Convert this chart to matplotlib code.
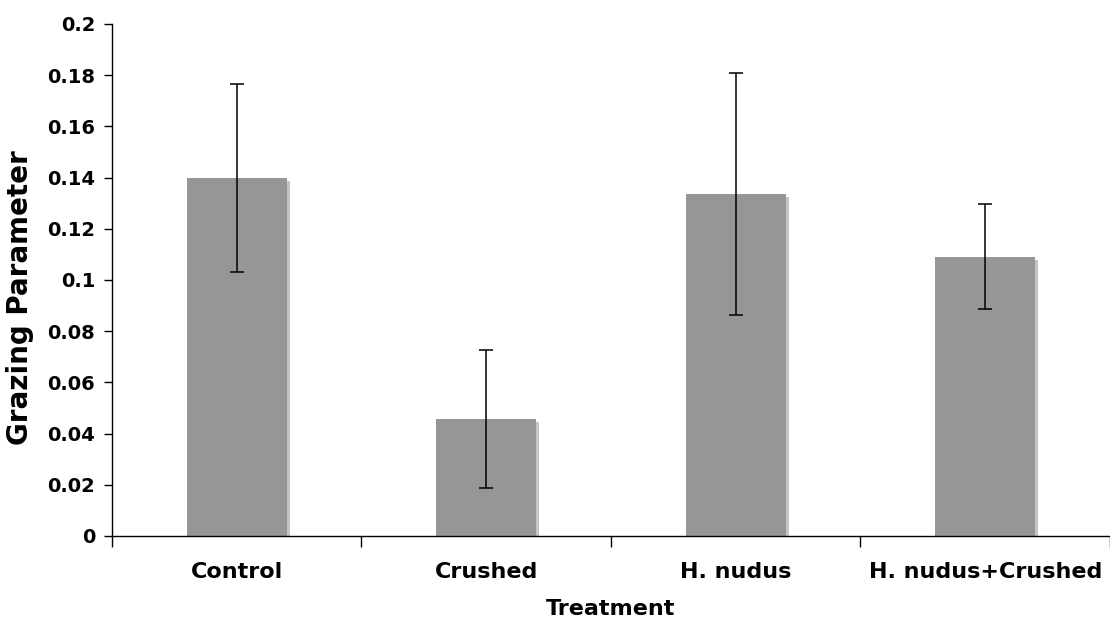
import matplotlib
matplotlib.use("Agg")
import matplotlib.pyplot as plt
import matplotlib.patheffects as pe
import numpy as np

# ── Data ──────────────────────────────────────────────────────────────────────
treatments = ["Control", "Crushed", "H. nudus", "H. nudus+Crushed"]
grazing    = [0.1398, 0.0457, 0.1336, 0.1090]
std_err    = [0.0368, 0.0270, 0.0473, 0.0205]
y_ticks    = [0, 0.02, 0.04, 0.06, 0.08, 0.1, 0.12, 0.14, 0.16, 0.18, 0.2]
y_labels   = ["0", "0.02", "0.04", "0.06", "0.08", "0.1", "0.12",
              "0.14", "0.16", "0.18", "0.2"]

BAR_COLOR    = "#969696"
SHADOW_COLOR = "#c4c4c4"

plt.rcParams["font.family"] = ["DejaVu Sans"]
plt.rcParams["font.weight"] = "bold"

fig = plt.figure(figsize=(11.1, 6.21), dpi=100)
ax = fig.add_axes([0.1009, 0.1369, 0.8991, 0.8245])

x = np.arange(len(treatments))
bars = ax.bar(x, grazing, width=0.4, color=BAR_COLOR, zorder=2)
# Excel-style drop shadow to the lower right of each bar
for b in bars:
    b.set_path_effects([
        pe.SimplePatchShadow(offset=(2.2, -2.2), shadow_rgbFace=SHADOW_COLOR, alpha=1.0),
        pe.Normal(),
    ])

ax.errorbar(x, grazing, yerr=std_err, fmt="none", ecolor="black",
            elinewidth=1.1, capsize=5, capthick=1.1, zorder=3)

ax.set_xlim(-0.5, len(treatments) - 0.5)
ax.set_ylim(0, 0.2)

# Category labels centred, tick marks on category boundaries
ax.set_xticks(x)
ax.set_xticklabels(treatments, fontsize=16, fontweight="bold")
ax.tick_params(axis="x", which="major", length=0, pad=19)
ax.set_xticks(np.arange(len(treatments) + 1) - 0.5, minor=True)
ax.tick_params(axis="x", which="minor", length=8, width=1, direction="out")

ax.set_yticks(y_ticks)
ax.set_yticklabels(y_labels, fontsize=14, fontweight="bold")
ax.tick_params(axis="y", length=6, width=1, direction="out", pad=6)

ax.set_xlabel("Treatment", fontsize=16, fontweight="bold", labelpad=12)
ax.set_ylabel("Grazing Parameter", fontsize=20, fontweight="bold")
ax.yaxis.set_label_coords(-0.078, 0.465)

for side in ("top", "right"):
    ax.spines[side].set_visible(False)
for side in ("left", "bottom"):
    ax.spines[side].set_linewidth(1.0)
    ax.spines[side].set_color("black")

fig.savefig("out.png", dpi=100, facecolor="white")
